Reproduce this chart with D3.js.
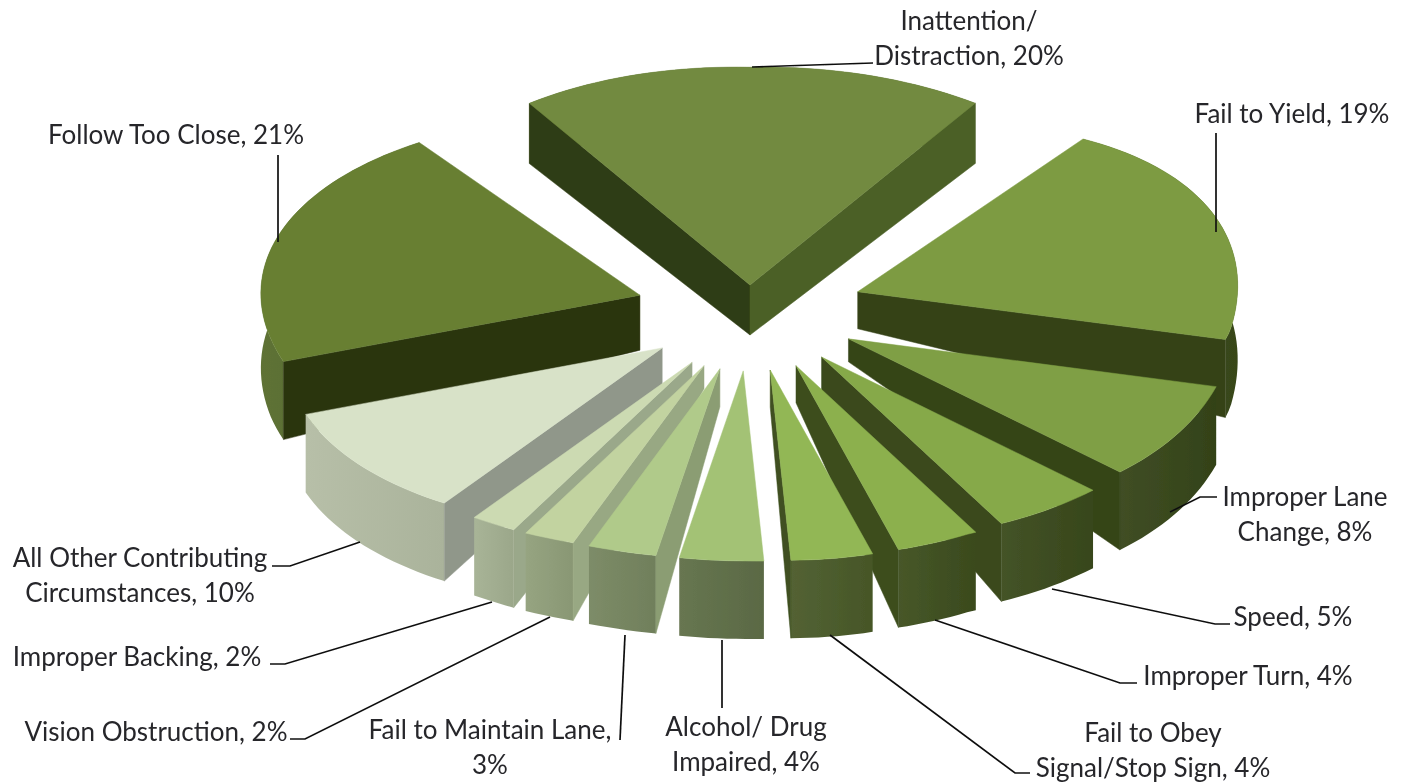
<!DOCTYPE html>
<html><head><meta charset="utf-8">
<script src="https://cdn.jsdelivr.net/npm/d3@7/dist/d3.min.js"></script>
<style>html,body{margin:0;padding:0;background:#fff;overflow:hidden}svg{display:block}</style>
</head><body><svg id="chart" width="1411" height="784"></svg>
<script>
// ---------- data ----------
const categories = ["Inattention/Distraction","Fail to Yield","Improper Lane Change","Speed","Improper Turn","Fail to Obey Signal/Stop Sign","Alcohol/Drug Impaired","Fail to Maintain Lane","Vision Obstruction","Improper Backing","All Other Contributing Circumstances","Follow Too Close"];
const values = [20,19,8,5,4,4,4,3,2,2,10,21];
// ---------- styling per slice ----------
const explode  = [0.5,1.05,1,1,1,1,1,1,1,1,1,1.05];
const reachY   = [1.19,1,1,1,1,1,1,1,1,1,1,1];
const innerH   = [50,37,23,37,37,37,37,38,23,20,36,55];
const topColors   = ["#728a40","#7d9b42","#7f9f44","#86a94a","#8cb04e","#92b755","#a3c275","#b0ca8a","#c2d3a0","#ccdab2","#d8e2c8","#677f33"];
const outerColors = ["#4c6128","#3a4a1a","#364519","#3a4a1c","#3d4e1e","#4a5a29","#5f6f48","#768660","#909f7a","#a3b091","#b3bca3","#566b2b"];
const wallColors  = ["#4c6128","#354318","#364519","#3a4a1c","#3d4e1e","#3f5020","#5d7040","#8b9d73","#98a883","#a0ad8e","#90978a","#2b3410"];
const startWallColors = ["#2f3d15","#354318","#364519","#3a4a1c","#3d4e1e","#3f5020","#5d7040","#8b9d73","#98a883","#9aa88a","#90978a","#2b3410"];
// ---------- labels ----------
const labelLines = [["Inattention/","Distraction, 20%"],["Fail to Yield, 19%"],["Improper Lane","Change, 8%"],["Speed,  5%"],["Improper Turn, 4%"],["Fail to Obey","Signal/Stop Sign, 4%"],["Alcohol/ Drug","Impaired, 4%"],["Fail to Maintain Lane,","3%"],["Vision Obstruction, 2%"],["Improper Backing, 2%"],["All Other Contributing","Circumstances, 10%"],["Follow Too Close, 21%"]];
const labelX = [969,1292,1305,1293,1248,1153,746,490,156,137,140,176];
const labelY = [21,114,497,617,676,733,727,730,732,657,558,135];
const leaders = [
 [[752,67],[873,63]],
 [[1216,133],[1216,232]],
 [[1217,497],[1200,497],[1170,512]],
 [[1230,624],[1215,624],[1052,589]],
 [[1137,683],[1120,683],[935,620]],
 [[1030,773],[1015,773],[830,635]],
 [[722,640],[722,708]],
 [[625,635],[620,740]],
 [[290,739],[305,739],[550,617]],
 [[270,664],[285,664],[492,602]],
 [[272,566],[290,566],[360,542]],
 [[278,155],[278,242]]
];
// ---------- projection ----------
const cx = 750, cy = 313, ex = 110, eyBack = 56, eyFront = 58;
const knotsX = [0,35,100,130,150,180,200,208,250,325,360];
const radX = d3.scaleLinear().domain(knotsX).range([388,390,378,358,340,335,360,377,378,382,388]);
const knotsY = [0,35,100,130,150,180,215,250,325,360];
const radY = d3.scaleLinear().domain(knotsY).range([183,187,225,205,195,190,190,200,187,183]);
const outerDepth = d3.scaleLinear().domain([100,340]).range([60,78]).clamp(true);
const deg = a => ((a*180/Math.PI)%360+360)%360;

const pie = d3.pie().sort(null).startAngle(-values[0]/d3.sum(values)*Math.PI).endAngle(-values[0]/d3.sum(values)*Math.PI+2*Math.PI);
const arcs = pie(values);
const svg = d3.select("#chart");
const defs = svg.append("defs");
defs.append("filter").attr("id","soft").attr("x","-5%").attr("y","-5%").attr("width","110%").attr("height","110%")
  .append("feGaussianBlur").attr("stdDeviation",0.55);
const line = d3.line().x(d=>d[0]).y(d=>d[1]);

const slices = arcs.map((a,i)=>{
  const m=(a.startAngle+a.endAngle)/2;
  const ey=Math.cos(m)>0?eyBack:eyFront;
  const apex=[cx+Math.sin(m)*ex*explode[i], cy-Math.cos(m)*ey*explode[i]];
  const pt=t=>{const d=deg(t);return [apex[0]+Math.sin(t)*radX(d), apex[1]-Math.cos(t)*radY(d)*reachY[i]];};
  const n=Math.max(4,Math.ceil((a.endAngle-a.startAngle)/0.03));
  const rim=d3.range(n+1).map(k=>pt(a.startAngle+(a.endAngle-a.startAngle)*k/n));
  return {i,m,apex,rim};
});
const drop=(p,h)=>[p[0],p[1]+h];
const cross=(u,v)=>u[0]*v[1]-u[1]*v[0];
const order=slices.slice().sort((a,b)=>Math.cos(b.m)-Math.cos(a.m));

const root=svg.append("g").attr("filter","url(#soft)");
const g=root.append("g");
order.forEach(s=>{
  const i=s.i, rim=s.rim, A=s.apex, S=rim[0], E=rim[rim.length-1];
  const slice=g.append("g").attr("class","slice").attr("data-name",categories[i]);
  const id="outer"+i, base=outerColors[i];
  const grad=defs.append("linearGradient").attr("id",id).attr("x1","0").attr("x2","1").attr("y1","0").attr("y2","0");
  grad.append("stop").attr("offset","0").attr("stop-color",d3.interpolateRgb(base,"#fff")(0.05));
  grad.append("stop").attr("offset","1").attr("stop-color",d3.interpolateRgb(base,"#000")(0.05));
  const outerPoly=rim.concat(rim.slice().reverse().map(p=>drop(p,outerDepth(p[1]))));
  slice.append("path").attr("d",line(outerPoly)+"Z").attr("fill",`url(#${id})`);
  const wall=(P,O,col)=>{
    const d=[P[0]-A[0],P[1]-A[1]], inn=[O[0]-A[0],O[1]-A[1]];
    if(cross(d,inn)*cross(d,[0,1])>=0) return;
    slice.append("path").attr("d",line([A,P,drop(P,outerDepth(P[1])),drop(A,innerH[i])])+"Z")
      .attr("fill",col).attr("stroke",col).attr("stroke-width",0.5);
  };
  wall(S,E,startWallColors[i]);
  wall(E,S,wallColors[i]);
  slice.append("path").attr("d",line([A].concat(rim))+"Z").attr("fill",topColors[i]).attr("stroke",topColors[i]).attr("stroke-width",0.5);
});

// ---------- leaders and labels ----------
const lg=root.append("g");
leaders.forEach(pts=>lg.append("path").attr("d",line(pts)).attr("fill","none").attr("stroke","#111").attr("stroke-width",1.7));
const tg=root.append("g").attr("font-family","Lato, 'Open Sans', sans-serif").attr("font-size",26).attr("fill","#26262a").attr("text-anchor","middle");
labelLines.forEach((ls,i)=>ls.forEach((t,k)=>tg.append("text").attr("x",labelX[i]).attr("y",labelY[i]+k*34.5).attr("dy","0.35em").text(t)));
</script></body></html>
